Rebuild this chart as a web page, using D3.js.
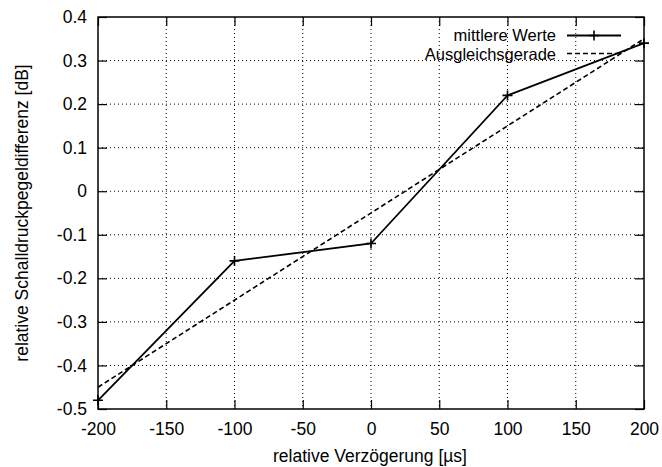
<!DOCTYPE html>
<html lang="de">
<head>
  <meta charset="UTF-8">
  <title>Schalldruckpegeldifferenz</title>
  <script src="https://d3js.org/d3.v7.min.js"></script>
  <style>
    body { margin: 0; background: #fff; }
    svg text { font-family: "Liberation Sans", Arial, sans-serif; fill: #000; font-size: 17.5px; }
    .grid line { stroke: #000; stroke-width: 1; stroke-dasharray: 1,3; }
    .legend text { font-size: 16.5px; }
  </style>
</head>
<body>
  <svg id="chart" width="662" height="467"></svg>
  <script>
    // data
    const delays = [-200, -100, 0, 100, 200];
    const meanValues = [-0.48, -0.16, -0.12, 0.22, 0.34];
    const fitX = [-200, 200];
    const fitY = [-0.45, 0.35];
    const xTicks = [-200, -150, -100, -50, 0, 50, 100, 150, 200];
    const yTicks = [-0.5, -0.4, -0.3, -0.2, -0.1, 0, 0.1, 0.2, 0.3, 0.4];

    const svg = d3.select("#chart");
    const plotLeft = 98, plotRight = 644, plotTop = 17, plotBottom = 409;

    const x = d3.scaleLinear().domain([-200, 200]).range([plotLeft, plotRight]);
    const y = d3.scaleLinear().domain([-0.5, 0.4]).range([plotBottom, plotTop]);

    // plain hyphen instead of the unicode minus
    const fmtX = d => String(d);
    const fmtY = d => d === 0 ? "0" : d.toFixed(1);

    // grid
    const grid = svg.append("g").attr("class", "grid");
    grid.selectAll(".gx").data(xTicks.slice(1, -1)).enter().append("line")
      .attr("x1", d => x(d)).attr("x2", d => x(d))
      .attr("y1", plotTop).attr("y2", plotBottom);
    grid.selectAll(".gy").data(yTicks.slice(1, -1)).enter().append("line")
      .attr("x1", plotLeft).attr("x2", plotRight)
      .attr("y1", d => y(d)).attr("y2", d => y(d));

    // axes with inward ticks on all four sides
    const tl = 9;
    svg.append("g").attr("transform", `translate(0,${plotBottom})`)
      .call(d3.axisBottom(x).tickValues(xTicks).tickSize(-tl).tickPadding(14).tickFormat(fmtX));
    svg.append("g").attr("transform", `translate(0,${plotTop})`)
      .call(d3.axisTop(x).tickValues(xTicks).tickSize(-tl).tickFormat(""));
    svg.append("g").attr("transform", `translate(${plotLeft},0)`)
      .call(d3.axisLeft(y).tickValues(yTicks).tickSize(-tl).tickPadding(11).tickFormat(fmtY));
    svg.append("g").attr("transform", `translate(${plotRight},0)`)
      .call(d3.axisRight(y).tickValues(yTicks).tickSize(-tl).tickFormat(""));
    svg.selectAll(".domain").remove();
    svg.selectAll(".tick line").attr("stroke", "#000").attr("stroke-width", 1.2);
    svg.selectAll(".tick text").attr("font-size", null).attr("font-family", null);

    svg.append("rect")
      .attr("x", plotLeft).attr("y", plotTop)
      .attr("width", plotRight - plotLeft).attr("height", plotBottom - plotTop)
      .attr("fill", "none").attr("stroke", "#000").attr("stroke-width", 1.5);

    // series
    const pts = delays.map((d, i) => [d, meanValues[i]]);
    const line = d3.line().x(d => x(d[0])).y(d => y(d[1]));
    svg.append("path").datum(pts).attr("d", line)
      .attr("fill", "none").attr("stroke", "#000").attr("stroke-width", 1.8);
    svg.selectAll(".mark").data(pts).enter().append("path")
      .attr("d", d => `M${x(d[0]) - 5},${y(d[1])}h10M${x(d[0])},${y(d[1]) - 5}v10`)
      .attr("stroke", "#000").attr("stroke-width", 1.6);

    const fit = fitX.map((d, i) => [d, fitY[i]]);
    svg.append("path").datum(fit).attr("d", line)
      .attr("fill", "none").attr("stroke", "#000").attr("stroke-width", 1.6)
      .attr("stroke-dasharray", "5,3");

    // legend
    const lg = svg.append("g").attr("class", "legend");
    lg.append("text").attr("x", 556).attr("y", 40.5).attr("text-anchor", "end").text("mittlere Werte");
    lg.append("line").attr("x1", 567).attr("x2", 621).attr("y1", 35.5).attr("y2", 35.5)
      .attr("stroke", "#000").attr("stroke-width", 1.8);
    lg.append("path").attr("d", "M594,30.5v10M589,35.5h10").attr("stroke", "#000").attr("stroke-width", 1.6);
    lg.append("text").attr("x", 556).attr("y", 59.5).attr("text-anchor", "end").text("Ausgleichsgerade");
    lg.append("line").attr("x1", 567).attr("x2", 621).attr("y1", 53.5).attr("y2", 53.5)
      .attr("stroke", "#000").attr("stroke-width", 1.6).attr("stroke-dasharray", "5,3");

    // axis titles
    svg.append("text").attr("x", 370).attr("y", 462).attr("text-anchor", "middle")
      .text("relative Verzögerung [µs]");
    svg.append("text").attr("transform", "translate(28,213) rotate(-90)").attr("text-anchor", "middle")
      .text("relative Schalldruckpegeldifferenz [dB]");
  </script>
</body>
</html>
